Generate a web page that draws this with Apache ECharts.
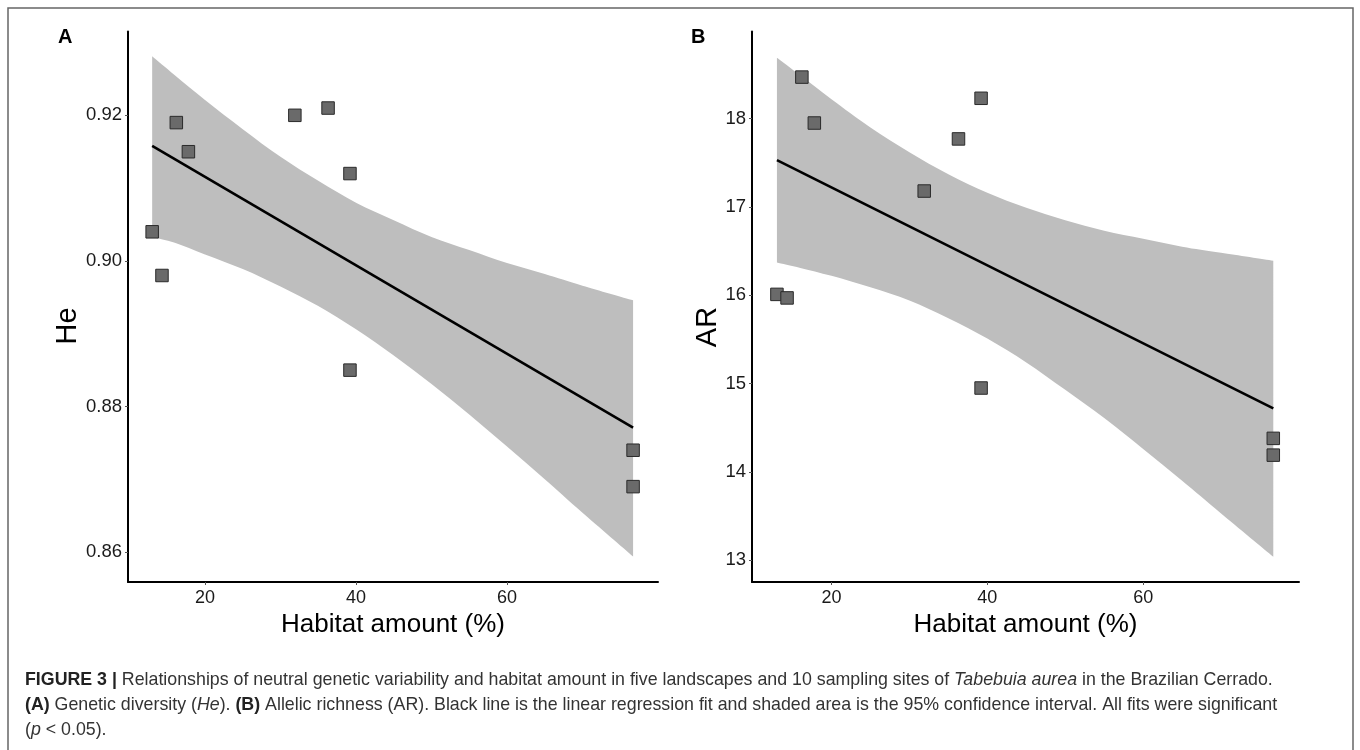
<!DOCTYPE html>
<html>
<head>
<meta charset="utf-8">
<script src="https://cdn.jsdelivr.net/npm/echarts@6/dist/echarts.min.js"></script>
<style>
html,body{margin:0;padding:0;background:#fff;}
#chart{width:1360px;height:750px;}
</style>
</head>
<body>
<div id="chart"></div>
<script>
// ---- data ----
const xSites = [13.0, 14.3, 16.2, 17.8, 31.9, 36.3, 39.2, 39.2, 76.7, 76.7];
const heValues = [0.904, 0.898, 0.919, 0.915, 0.920, 0.921, 0.912, 0.885, 0.874, 0.869];
const arValues = [16.01, 15.97, 18.47, 17.95, 17.18, 17.77, 18.23, 14.95, 14.38, 14.19];
const fitX = [13.0, 76.7];
const heFit = [0.9158, 0.8771];
const arFit = [17.53, 14.72];
const bandX = [13, 16, 20, 25, 30, 35, 40, 45, 50, 55, 60, 65, 70, 76.7];
const heUpper = [0.9281, 0.9255, 0.9221, 0.9181, 0.9143, 0.9110, 0.9080, 0.9056, 0.9033, 0.9015, 0.8997, 0.8982, 0.8966, 0.8946];
const heLower = [0.9033, 0.9025, 0.9009, 0.8989, 0.8965, 0.8938, 0.8906, 0.8870, 0.8831, 0.8789, 0.8745, 0.8700, 0.8654, 0.8594];
const arUpper = [18.69, 18.49, 18.22, 17.90, 17.62, 17.37, 17.16, 16.99, 16.85, 16.73, 16.64, 16.55, 16.48, 16.39];
const arLower = [16.37, 16.31, 16.22, 16.09, 15.94, 15.74, 15.51, 15.24, 14.93, 14.61, 14.26, 13.90, 13.53, 13.04];
const xTicks = [20, 40, 60];
const heTicks = [0.86, 0.88, 0.90, 0.92];
const arTicks = [13, 14, 15, 16, 17, 18];
const xTitle = 'Habitat amount (%)';
const captionLines = [
  '{b|FIGURE 3 |} Relationships of neutral genetic variability and habitat amount in five landscapes and 10 sampling sites of {i|Tabebuia aurea} in the Brazilian Cerrado.',
  '{b|(A)} Genetic diversity ({i|He}). {b|(B)} Allelic richness (AR). Black line is the linear regression fit and shaded area is the 95% confidence interval. All fits were significant',
  '({i|p} < 0.05).'
];

const FONT = "'Liberation Sans', Arial, Helvetica, sans-serif";
const chart = echarts.init(document.getElementById('chart'), null, {renderer: 'canvas'});

// smooth path (Catmull-Rom -> cubic Bezier) through pixel points, drawing only
function curveTo(pts, start) {
  let d = start ? 'M' + pts[0][0] + ' ' + pts[0][1] : 'L' + pts[0][0] + ' ' + pts[0][1];
  for (let i = 0; i < pts.length - 1; i++) {
    const p0 = pts[i - 1] || pts[i], p1 = pts[i], p2 = pts[i + 1], p3 = pts[i + 2] || pts[i + 1];
    const c1 = [p1[0] + (p2[0] - p0[0]) / 6, p1[1] + (p2[1] - p0[1]) / 6];
    const c2 = [p2[0] - (p3[0] - p1[0]) / 6, p2[1] - (p3[1] - p1[1]) / 6];
    d += ' C' + c1[0] + ' ' + c1[1] + ' ' + c2[0] + ' ' + c2[1] + ' ' + p2[0] + ' ' + p2[1];
  }
  return d;
}
function bandSeries(idx, upper, lower) {
  return {
    type: 'custom', xAxisIndex: idx, yAxisIndex: idx, silent: true, z: 1,
    data: bandX.map((x, i) => [x, upper[i], lower[i]]),
    renderItem: function (params, api) {
      if (params.dataIndex !== 0) return null;
      const up = bandX.map((x, i) => api.coord([x, upper[i]]));
      const lo = bandX.map((x, i) => api.coord([x, lower[i]])).reverse();
      const d = curveTo(up, true) + ' ' + curveTo(lo, false) + ' Z';
      return {type: 'path', shape: {pathData: d}, style: {fill: '#bebebe', stroke: null}};
    }
  };
}
function fitSeries(idx, ys) {
  return {
    type: 'line', xAxisIndex: idx, yAxisIndex: idx, z: 3, silent: true,
    data: fitX.map((x, i) => [x, ys[i]]), showSymbol: false, symbol: 'none',
    lineStyle: {color: '#000', width: 2.6}
  };
}
function pointSeries(idx, ys) {
  return {
    type: 'scatter', xAxisIndex: idx, yAxisIndex: idx, z: 4, silent: true,
    data: xSites.map((x, i) => [x, ys[i]]), symbol: 'rect', symbolSize: 12.5,
    itemStyle: {color: '#6a6a6a', borderColor: '#2a2a2a', borderWidth: 1, opacity: 1}
  };
}
function xAxis(idx) {
  return {
    type: 'value', gridIndex: idx, min: 9.8, max: 80,
    axisLine: {show: true, onZero: false, lineStyle: {color: '#000', width: 2}},
    axisTick: {show: true, length: 3, customValues: xTicks, lineStyle: {color: '#555', width: 1}},
    axisLabel: {customValues: xTicks, fontSize: 18, color: '#1a1a1a', margin: 7, fontFamily: FONT},
    splitLine: {show: false},
    name: xTitle, nameLocation: 'middle', nameGap: 30,
    nameTextStyle: {fontSize: 26, color: '#000', fontFamily: FONT}
  };
}
function yAxis(idx, min, max, ticks, dec) {
  return {
    type: 'value', gridIndex: idx, min: min, max: max,
    axisLine: {show: true, onZero: false, lineStyle: {color: '#000', width: 2}},
    axisTick: {show: true, length: 3, customValues: ticks, lineStyle: {color: '#555', width: 1}},
    axisLabel: {customValues: ticks, fontSize: 18.5, color: '#1a1a1a', margin: 6, fontFamily: FONT,
      formatter: v => Number(v).toFixed(dec)},
    splitLine: {show: false}
  };
}

const graphics = [
  {type: 'rect', shape: {x: 8, y: 8, width: 1345, height: 760}, style: {fill: null, stroke: '#666', lineWidth: 1.5}, silent: true},
  {type: 'text', x: 58, y: 27, style: {text: 'A', fontSize: 20, fontWeight: 'bold', fill: '#000', fontFamily: FONT}},
  {type: 'text', x: 691, y: 27, style: {text: 'B', fontSize: 20, fontWeight: 'bold', fill: '#000', fontFamily: FONT}},
  {type: 'text', x: 68, y: 326, rotation: Math.PI / 2,
    style: {text: 'He', fontSize: 29, fill: '#000', fontFamily: FONT, align: 'center', verticalAlign: 'middle'}},
  {type: 'text', x: 708, y: 327, rotation: Math.PI / 2,
    style: {text: 'AR', fontSize: 29, fill: '#000', fontFamily: FONT, align: 'center', verticalAlign: 'middle'}}
];
const CAP = 17.8;
const rich = {
  b: {fontWeight: 'bold', fontSize: CAP, fill: '#222', fontFamily: FONT},
  i: {fontStyle: 'italic', fontSize: CAP, fill: '#333', fontFamily: FONT}
};
captionLines.forEach((t, k) => {
  graphics.push({type: 'text', x: 25, y: 689 + k * 25,
    style: {text: t, fontSize: CAP, fill: '#333', fontFamily: FONT, verticalAlign: 'bottom', rich: rich}});
});

chart.setOption({
  animation: false,
  backgroundColor: '#fff',
  grid: [
    {left: 128, right: 702, top: 31.6, bottom: 168, containLabel: false},
    {left: 752, right: 61, top: 31.6, bottom: 168, containLabel: false}
  ],
  xAxis: [xAxis(0), xAxis(1)],
  yAxis: [yAxis(0, 0.8559, 0.9315, heTicks, 2), yAxis(1, 12.754, 18.985, arTicks, 0)],
  series: [
    bandSeries(0, heUpper, heLower), fitSeries(0, heFit), pointSeries(0, heValues),
    bandSeries(1, arUpper, arLower), fitSeries(1, arFit), pointSeries(1, arValues)
  ],
  graphic: graphics
});
</script>
</body>
</html>
